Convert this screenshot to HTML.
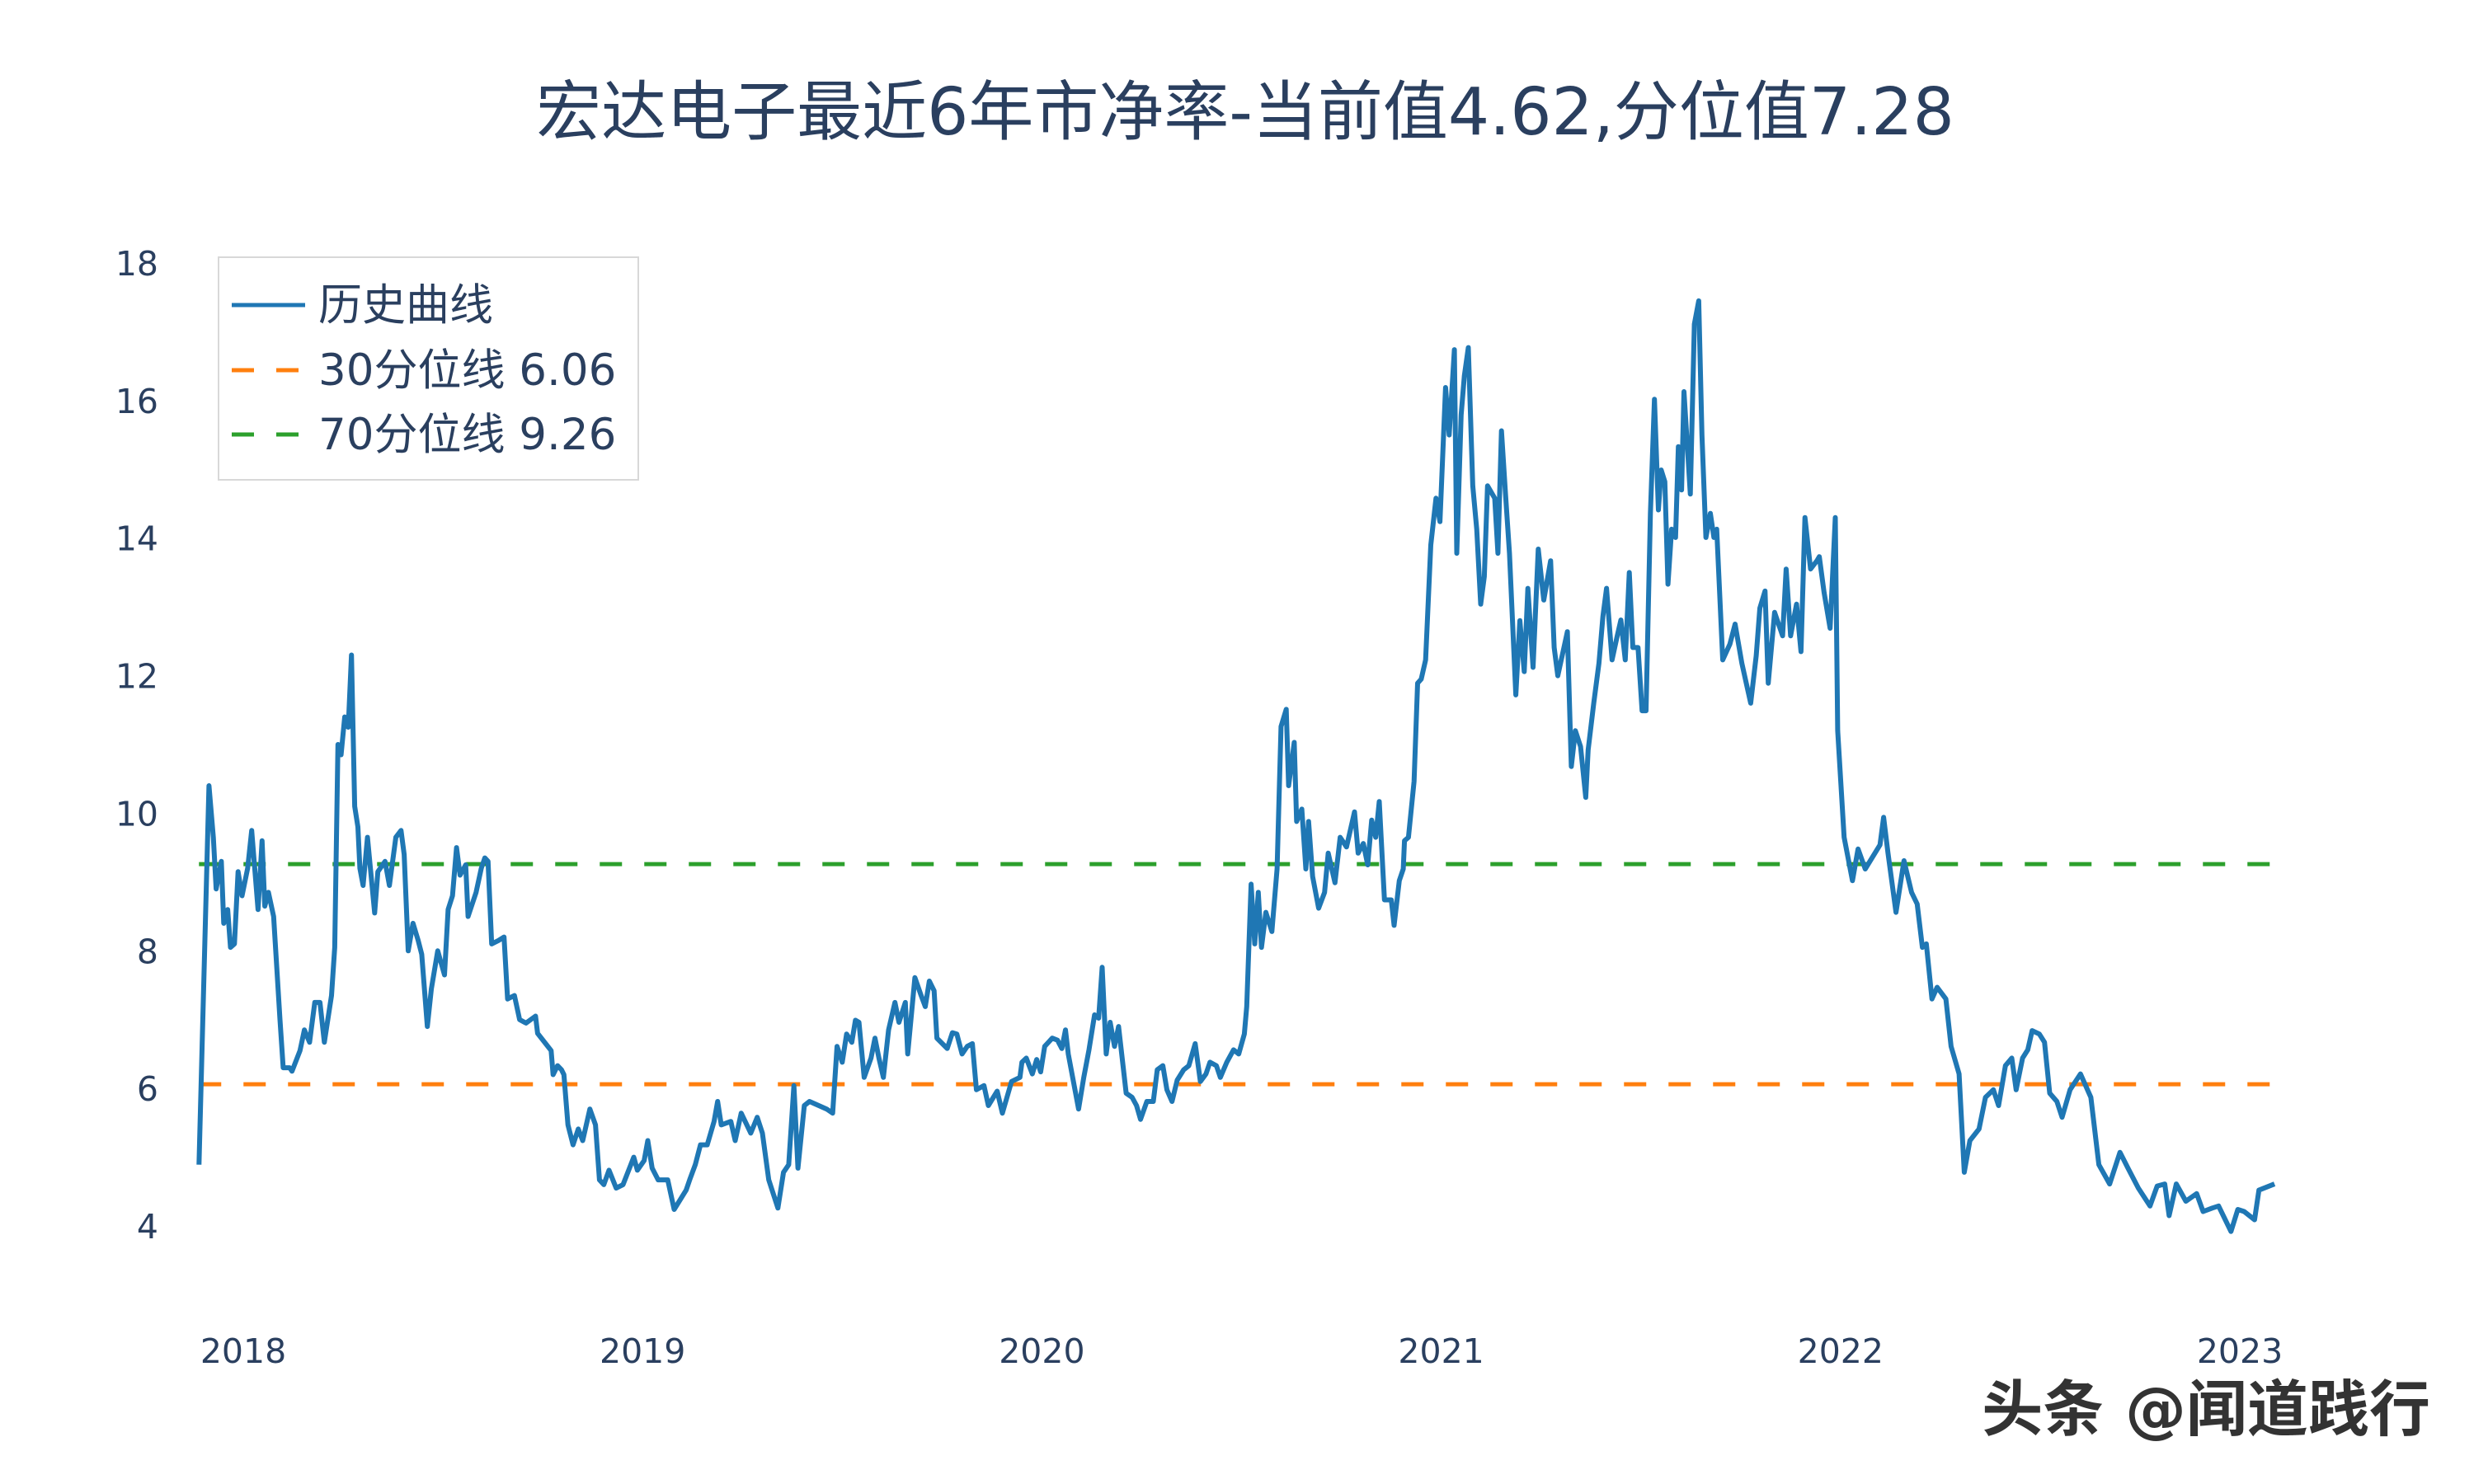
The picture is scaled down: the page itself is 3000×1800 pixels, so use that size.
<!DOCTYPE html>
<html><head><meta charset="utf-8">
<style>
html,body{margin:0;padding:0;background:#fff;}
svg{display:block;}
text{font-family:"DejaVu Sans","Noto Sans CJK SC",sans-serif;fill:#2a3f5f;}
</style></head>
<body>
<svg id="chart" width="3000" height="1800" viewBox="0 0 3000 1800" xmlns="http://www.w3.org/2000/svg">
  <rect width="3000" height="1800" fill="#fff"/>
  <text x="1510" y="163" font-size="79" text-anchor="middle">宏达电子最近6年市净率-当前值4.62,分位值7.28</text>
  <g id="yticks"></g>
  <g id="xticks"></g>
  <g id="lines"></g>
  <g>
    <rect x="265" y="312" width="509" height="270" fill="#fff" stroke="#d8d8d8" stroke-width="2"/>
    <line x1="281" y1="370" x2="370" y2="370" stroke="#1f77b4" stroke-width="5"/>
    <text x="386" y="388" font-size="53">历史曲线</text>
    <line x1="281" y1="449" x2="370" y2="449" stroke="#ff7f0e" stroke-width="5" stroke-dasharray="27,27"/>
    <text x="386" y="467" font-size="53">30分位线 6.06</text>
    <line x1="281" y1="527" x2="370" y2="527" stroke="#2ca02c" stroke-width="5" stroke-dasharray="27,27"/>
    <text x="386" y="545" font-size="53">70分位线 9.26</text>
  </g>
  <text x="2947" y="1735" font-size="74" font-weight="bold" text-anchor="end" stroke="#fff" stroke-width="3" paint-order="stroke" style="fill:#333">头条 @闻道践行</text>
</svg>
<script>
const yTicks = [4, 6, 8, 10, 12, 14, 16, 18];
const xTickYears = [2018, 2019, 2020, 2021, 2022, 2023];
const p30 = 6.06;
const p70 = 9.26;
const dates = [
2017.889,2017.914,2017.925,2017.932,2017.945,2017.951,2017.961,2017.968,2017.978,2017.987,2017.997,2018.011,2018.021,2018.037,2018.047,2018.054,2018.063,2018.076,2018.092,2018.100,2018.116,2018.122,2018.142,2018.153,2018.166,2018.179,2018.192,2018.203,2018.221,2018.229,2018.237,2018.245,2018.254,2018.263,2018.271,2018.279,2018.287,2018.292,2018.300,2018.311,2018.329,2018.337,2018.355,2018.366,2018.382,2018.395,2018.403,2018.413,2018.425,2018.438,2018.447,2018.461,2018.471,2018.487,2018.504,2018.513,2018.524,2018.534,2018.543,2018.557,2018.563,2018.583,2018.596,2018.605,2018.613,2018.622,2018.639,2018.653,2018.662,2018.679,2018.692,2018.708,2018.732,2018.737,2018.771,2018.776,2018.787,2018.797,2018.803,2018.813,2018.826,2018.839,2018.850,2018.868,2018.882,2018.892,2018.903,2018.916,2018.934,2018.951,2018.978,2018.987,2019.004,2019.013,2019.024,2019.039,2019.063,2019.079,2019.109,2019.118,2019.132,2019.145,2019.162,2019.179,2019.188,2019.197,2019.221,2019.232,2019.247,2019.271,2019.287,2019.300,2019.316,2019.339,2019.353,2019.366,2019.379,2019.389,2019.405,2019.418,
2019.461,2019.476,2019.487,2019.500,2019.511,2019.524,2019.533,2019.542,2019.555,2019.572,2019.582,2019.592,2019.603,2019.616,2019.632,2019.642,2019.658,2019.664,2019.682,2019.697,2019.708,2019.718,2019.730,2019.737,2019.763,2019.776,2019.787,2019.800,2019.813,2019.826,2019.836,2019.855,2019.866,2019.888,2019.901,2019.924,2019.945,2019.950,2019.961,2019.976,2019.987,2019.997,2020.007,2020.026,2020.039,2020.050,2020.059,2020.066,2020.092,2020.105,2020.118,2020.132,2020.142,2020.151,2020.161,2020.171,2020.182,2020.192,2020.211,2020.226,2020.237,2020.247,2020.263,2020.279,2020.289,2020.303,2020.313,2020.326,2020.339,2020.355,2020.368,2020.384,2020.397,2020.411,2020.421,2020.437,2020.447,2020.463,2020.480,2020.493,2020.507,2020.513,2020.524,2020.533,2020.542,2020.550,2020.561,2020.576,2020.589,2020.599,2020.612,2020.618,2020.632,2020.638,2020.651,2020.661,2020.668,2020.678,2020.693,2020.708,2020.717,2020.734,2020.747,2020.763,2020.783,2020.792,2020.805,2020.816,2020.826,2020.836,2020.845,2020.858,2020.875,2020.882,2020.895,2020.905,2020.908,2020.918,2020.932,2020.941,2020.950,2020.961,2020.974,2020.987,2020.997,2021.011,2021.020,2021.033,2021.039,2021.050,2021.058,2021.068,2021.079,2021.089,2021.099,2021.108,2021.116,2021.134,2021.142,2021.151,2021.161,2021.171,2021.187,2021.197,2021.208,2021.217,2021.230,2021.243,2021.257,2021.274,2021.283,2021.292,2021.303,2021.316,2021.326,2021.336,2021.349,2021.362,2021.368,2021.382,2021.395,2021.405,2021.414,2021.428,2021.441,2021.450,2021.461,2021.471,2021.480,2021.493,2021.503,2021.513,2021.524,
2021.534,2021.544,2021.551,2021.560,2021.568,2021.577,2021.587,2021.594,2021.602,2021.608,2021.624,2021.634,2021.645,2021.653,2021.663,2021.674,2021.683,2021.690,2021.705,2021.723,2021.736,2021.753,2021.775,2021.789,2021.798,2021.811,2021.819,2021.835,2021.855,2021.864,2021.875,2021.890,2021.901,2021.911,2021.925,2021.941,2021.947,2021.959,2021.974,2021.987,2021.993,2022.009,2022.030,2022.044,2022.062,2022.099,2022.108,2022.119,2022.139,2022.159,2022.178,2022.192,2022.205,2022.215,2022.229,2022.242,2022.264,2022.277,2022.297,2022.310,2022.324,2022.347,2022.363,2022.383,2022.396,2022.413,2022.429,2022.440,2022.456,2022.469,2022.480,2022.498,2022.511,2022.524,2022.542,2022.555,2022.575,2022.601,2022.627,2022.647,2022.674,2022.700,2022.720,2022.746,2022.775,2022.793,2022.812,2022.823,2022.841,2022.865,2022.892,2022.908,2022.931,2022.947,2022.978,2022.995,2023.011,2023.037,2023.048,2023.087
];
const pbValues = [
4.89,10.4,9.65,8.9,9.3,8.4,8.6,8.05,8.1,9.15,8.8,9.2,9.75,8.6,9.6,8.65,8.85,8.5,7.0,6.3,6.3,6.25,6.55,6.85,6.67,7.25,7.25,6.67,7.35,8.05,11.0,10.85,11.4,11.25,12.3,10.1,9.8,9.2,8.95,9.65,8.55,9.15,9.3,8.95,9.65,9.75,9.4,8.0,8.4,8.15,7.95,6.9,7.45,8.0,7.65,8.6,8.8,9.5,9.1,9.25,8.5,8.85,9.2,9.35,9.3,8.1,8.15,8.2,7.3,7.35,7.0,6.95,7.05,6.8,6.55,6.2,6.33,6.27,6.2,5.47,5.18,5.41,5.24,5.7,5.47,4.67,4.6,4.81,4.55,4.6,5.0,4.81,4.95,5.24,4.84,4.67,4.67,4.24,4.52,4.67,4.89,5.18,5.18,5.52,5.81,5.47,5.52,5.24,5.64,5.35,5.58,5.35,4.67,4.26,4.78,4.89,6.04,4.84,5.75,5.81,
5.7,5.64,6.61,6.38,6.79,6.67,6.99,6.96,6.16,6.44,6.73,6.44,6.16,6.85,7.25,6.96,7.25,6.5,7.61,7.36,7.19,7.56,7.42,6.73,6.58,6.81,6.79,6.5,6.61,6.65,5.98,6.04,5.75,5.96,5.64,6.1,6.16,6.38,6.44,6.21,6.42,6.24,6.61,6.73,6.7,6.58,6.85,6.5,5.7,6.16,6.56,7.07,7.02,7.76,6.5,6.96,6.61,6.9,5.93,5.87,5.75,5.55,5.81,5.81,6.27,6.33,5.98,5.81,6.12,6.27,6.33,6.65,6.1,6.21,6.38,6.33,6.16,6.38,6.56,6.5,6.79,7.19,8.97,8.1,8.85,8.05,8.56,8.28,9.19,11.26,11.51,10.4,11.03,9.88,10.06,9.19,9.88,9.08,8.62,8.85,9.42,8.99,9.65,9.51,10.02,9.42,9.56,9.25,9.9,9.65,10.17,8.74,8.74,8.37,9.02,9.19,9.6,9.65,10.46,11.89,11.95,12.23,13.9,14.58,14.24,16.19,15.5,16.74,13.78,15.79,16.36,16.77,14.76,14.13,13.04,13.44,14.76,14.58,13.78,15.56,14.64,13.78,11.72,12.8,12.06,13.27,12.12,13.84,13.1,13.67,12.41,12.0,12.29,12.64,10.68,11.2,10.97,10.23,10.92,11.6,12.18,12.86,13.27,12.23,12.58,12.81,12.23,13.5,12.41,12.41,11.49,11.49,14.36,
16.02,14.41,14.99,14.82,13.33,14.13,14.01,15.33,14.7,16.13,14.64,17.11,17.45,15.5,14.01,14.36,14.01,14.13,12.23,12.46,12.75,12.18,11.6,12.29,12.98,13.23,11.89,12.92,12.58,13.55,12.58,13.04,12.35,14.3,13.55,13.67,13.73,13.21,12.69,14.3,11.2,9.65,9.02,9.48,9.19,9.54,9.94,9.42,8.56,9.31,8.85,8.68,8.05,8.1,7.3,7.47,7.3,6.61,6.21,4.78,5.24,5.41,5.87,5.98,5.75,6.33,6.44,5.98,6.44,6.56,6.84,6.79,6.67,5.93,5.81,5.58,5.98,6.21,5.87,4.89,4.61,5.07,4.84,4.55,4.29,4.58,4.61,4.15,4.61,4.36,4.47,4.21,4.26,4.29,3.92,4.24,4.21,4.09,4.52,4.61
];

const NS = 'http://www.w3.org/2000/svg';
function xScale(yr){ return 295 + (yr - 2018) * 484.2; }
function yScale(v){ return 1487 - (v - 4) * 83.43; }

const yg = document.getElementById('yticks');
yTicks.forEach(function(t){
  const el = document.createElementNS(NS, 'text');
  el.setAttribute('x', 192);
  el.setAttribute('y', yScale(t) + 15);
  el.setAttribute('font-size', '41');
  el.setAttribute('text-anchor', 'end');
  el.textContent = t;
  
  
  yg.appendChild(el);
});
const xg = document.getElementById('xticks');
xTickYears.forEach(function(t){
  const el = document.createElementNS(NS, 'text');
  el.setAttribute('x', xScale(t));
  el.setAttribute('y', 1653);
  el.setAttribute('font-size', '41');
  el.setAttribute('text-anchor', 'middle');
  el.textContent = t;
  
  
  xg.appendChild(el);
});

const lg = document.getElementById('lines');
const x0 = xScale(dates[0]), x1 = xScale(dates[dates.length - 1]);
[[p30, '#ff7f0e', 'p30-line'], [p70, '#2ca02c', 'p70-line']].forEach(function(d){
  const ln = document.createElementNS(NS, 'line');
  ln.setAttribute('x1', x0); ln.setAttribute('x2', x1);
  ln.setAttribute('y1', yScale(d[0])); ln.setAttribute('y2', yScale(d[0]));
  ln.setAttribute('stroke', d[1]); ln.setAttribute('stroke-width', '5');
  ln.setAttribute('stroke-dasharray', '27,27');
  
  
  lg.appendChild(ln);
});
let dstr = '';
for (let i = 0; i < dates.length; i++) {
  dstr += (i ? 'L' : 'M') + xScale(dates[i]).toFixed(1) + ',' + yScale(pbValues[i]).toFixed(1);
}
const path = document.createElementNS(NS, 'path');
path.setAttribute('d', dstr);
path.setAttribute('fill', 'none');
path.setAttribute('stroke', '#1f77b4');
path.setAttribute('stroke-width', '6');
path.setAttribute('stroke-linejoin', 'round');


lg.appendChild(path);
</script>
</body></html>
